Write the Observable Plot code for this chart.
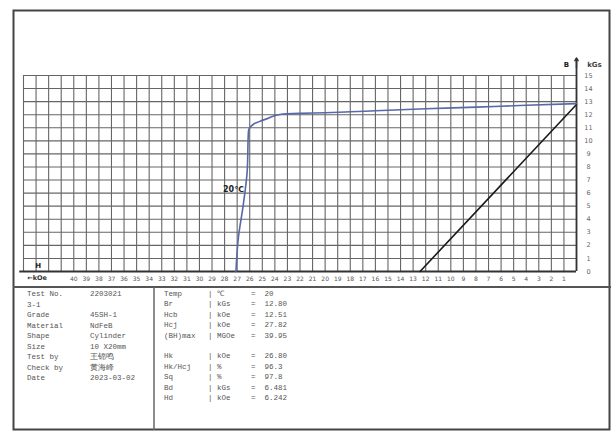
<!DOCTYPE html>
<html><head><meta charset="utf-8">
<script src="https://cdn.jsdelivr.net/npm/d3@7"></script>
<script src="https://cdn.jsdelivr.net/npm/@observablehq/plot@0.6"></script>
<style>body{margin:0;background:#fff;} svg{display:block;}</style>
</head><body><div id="chart"></div>
<script>
// Intrinsic (J-H) curve, 20°C
const jH = [0, -4, -8, -12, -16, -18, -20, -22, -23.5, -24.6, -25.3, -25.7, -26.1, -26.2, -26.5, -26.9, -27.1];
const jB = [12.85, 12.72, 12.58, 12.45, 12.3, 12.22, 12.15, 12.1, 12.03, 11.7, 11.45, 11.27, 10.74, 7.7, 5.2, 2.6, 0];
// Normal (B-H) line
const bH = [-12.45, 0];
const bB = [0, 12.78];
const xTicks = d3.range(-40, 0);          // labels 40 ... 1
const yTicks = d3.range(0, 16);           // 0 ... 15
const gridX = d3.range(-44, 1);
const gridY = d3.range(0, 16);
const tempLabel = "20℃";
const leftLabels = ["Test No.", "3-1", "Grade", "Material", "Shape", "Size", "Test by", "Check by", "Date"];
const leftValues = ["2203021", "", "45SH-1", "NdFeB", "Cylinder", "10 X20mm", "王锦鸣", "黄海峰", "2023-03-02"];
const paramNames = ["Temp", "Br", "Hcb", "Hcj", "(BH)max", "", "Hk", "Hk/Hcj", "Sq", "Bd", "Hd"];
const paramUnits = ["℃", "kGs", "kOe", "kOe", "MGOe", "", "kOe", "%", "%", "kGs", "kOe"];
const paramValues = ["20", "12.80", "12.51", "27.82", "39.95", "", "26.80", "96.3", "97.8", "6.481", "6.242"];

const curve = jH.map((h, i) => ({h, b: jB[i]}));
const line = bH.map((h, i) => ({h, b: bB[i]}));

const W = 611, H = 432;
const plot = Plot.plot({
  width: W, height: H,
  marginLeft: 23, marginRight: 35, marginTop: 75, marginBottom: 161,
  style: {fontFamily: "'DejaVu Sans', sans-serif", background: "#fff", overflow: "visible"},
  x: {domain: [-44, 0], axis: null},
  y: {domain: [0, 15], axis: null},
  marks: [
    Plot.ruleX(gridX, {y1: 0, y2: 15, stroke: "#666", strokeWidth: 1.1}),
    Plot.ruleY(gridY, {x1: -44, x2: 0, stroke: "#666", strokeWidth: 1.1}),
    Plot.ruleY([0], {x1: -44.3, x2: 0, stroke: "#333", strokeWidth: 1.8}),
    Plot.ruleX([0], {y1: 0, y2: 16.2, stroke: "#333", strokeWidth: 1.8}),
    Plot.arrow([{x1: 0, y1: 15.6, x2: 0, y2: 16.35}], {x1: "x1", y1: "y1", x2: "x2", y2: "y2", stroke: "#333", strokeWidth: 1.4, headLength: 6}),
    Plot.text(["B"], {x: 0, y: 15.85, dx: -10, text: d => d, fontSize: 7, fontWeight: "bold", fill: "#222"}),
    Plot.text(["kGs"], {x: 0, y: 15.85, dx: 18, text: d => d, fontSize: 7, fontWeight: "bold", fill: "#444"}),
    Plot.text(yTicks, {x: 0, y: d => d, dx: 12, text: d => String(d), fontSize: 6.5, fill: "#666"}),
    Plot.text(xTicks, {x: d => d, y: 0, dy: 8, text: d => String(-d), fontSize: 6, fill: "#555"}),
    Plot.text(["H"], {x: -43, y: 0, dy: -6, dx: 2, text: d => d, fontSize: 7, fontWeight: "bold", fill: "#222"}),
    Plot.text(["←kOe"], {x: -43, y: 0, dy: 6, dx: 1, text: d => d, fontSize: 6.5, fontWeight: "bold", fill: "#333"}),
    Plot.line(line, {x: "h", y: "b", stroke: "#1a1a1a", strokeWidth: 1.6}),
    Plot.line(curve, {x: "h", y: "b", stroke: "#5868a8", strokeWidth: 1.6, curve: "monotone-y"}),
    Plot.text([tempLabel], {x: -27.3, y: 6.25, text: d => d, fontSize: 8, fontWeight: "bold", fill: "#222"})
  ]
});
document.getElementById("chart").append(plot);

// Frame and info table
const svg = d3.select(plot);
const g = svg.append("g").attr("text-anchor", "start");
g.append("rect").attr("x", 13.5).attr("y", 10.5).attr("width", 596).attr("height", 419)
  .attr("fill", "none").attr("stroke", "#444").attr("stroke-width", 2);
g.append("line").attr("x1", 13).attr("x2", 611).attr("y1", 287).attr("y2", 287).attr("stroke", "#555").attr("stroke-width", 2);
g.append("line").attr("x1", 154).attr("x2", 154).attr("y1", 287).attr("y2", 430).attr("stroke", "#666").attr("stroke-width", 1.5);
const tf = "'Liberation Mono', 'DejaVu Sans Mono', monospace";
leftLabels.forEach((t, i) => {
  const y = 296 + i * 10.5;
  g.append("text").attr("x", 27).attr("y", y).text(t).attr("font-family", tf).attr("font-size", 7.5).attr("fill", "#555");
  g.append("text").attr("x", 90).attr("y", y).text(leftValues[i]).attr("font-family", tf).attr("font-size", 7.5).attr("fill", "#555");
});
paramNames.forEach((t, i) => {
  if (!t) return;
  const y = 296 + i * 10.4;
  g.append("text").attr("x", 164).attr("y", y).text(t).attr("font-family", tf).attr("font-size", 7.5).attr("fill", "#555");
  g.append("text").attr("x", 208).attr("y", y).text("| " + paramUnits[i]).attr("font-family", tf).attr("font-size", 7.5).attr("fill", "#555");
  g.append("text").attr("x", 251).attr("y", y).text("=  " + paramValues[i]).attr("font-family", tf).attr("font-size", 7.5).attr("fill", "#555");
});
</script></body></html>
